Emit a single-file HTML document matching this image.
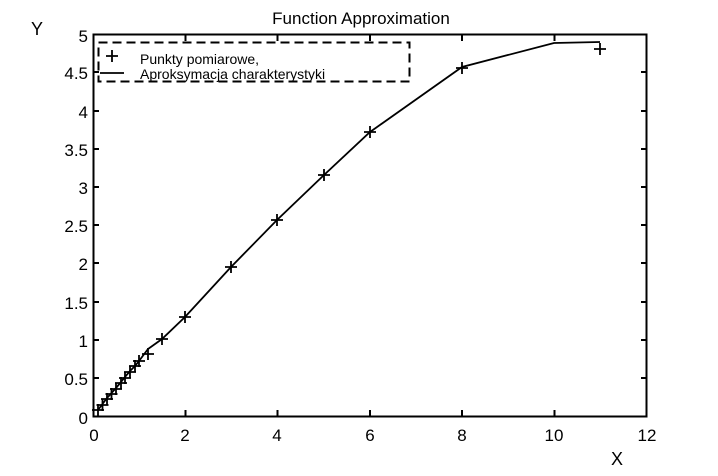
<!DOCTYPE html><html><head><style>body{margin:0;background:#fff}</style></head><body>
<svg width="718" height="471" xmlns="http://www.w3.org/2000/svg" font-family="Liberation Sans, sans-serif">
<rect width="718" height="471" fill="#fff"/>
<text x="361" y="24" font-size="17" text-anchor="middle">Function Approximation</text>
<text x="37" y="35" font-size="18" text-anchor="middle">Y</text>
<text x="617" y="465" font-size="18" text-anchor="middle">X</text>
<rect x="93.5" y="34.5" width="553" height="382" fill="none" stroke="#000" stroke-width="2"/>
<g stroke="#000" stroke-width="2">
<line x1="185.5" y1="416" x2="185.5" y2="410"/><line x1="277.5" y1="416" x2="277.5" y2="410"/><line x1="370" y1="416" x2="370" y2="410"/><line x1="462" y1="416" x2="462" y2="410"/><line x1="554.5" y1="416" x2="554.5" y2="410"/>
<line x1="185.5" y1="35" x2="185.5" y2="41"/><line x1="277.5" y1="35" x2="277.5" y2="41"/><line x1="370" y1="35" x2="370" y2="41"/><line x1="462" y1="35" x2="462" y2="41"/><line x1="554.5" y1="35" x2="554.5" y2="41"/>
</g>
<g stroke="#000" stroke-width="2">
<line x1="93" y1="378" x2="99" y2="378"/><line x1="93" y1="340" x2="99" y2="340"/><line x1="93" y1="302" x2="99" y2="302"/><line x1="93" y1="263" x2="99" y2="263"/><line x1="93" y1="225" x2="99" y2="225"/><line x1="93" y1="187" x2="99" y2="187"/><line x1="93" y1="149" x2="99" y2="149"/><line x1="93" y1="111" x2="99" y2="111"/><line x1="93" y1="72" x2="99" y2="72"/>
<line x1="647" y1="378" x2="641" y2="378"/><line x1="647" y1="340" x2="641" y2="340"/><line x1="647" y1="302" x2="641" y2="302"/><line x1="647" y1="263" x2="641" y2="263"/><line x1="647" y1="225" x2="641" y2="225"/><line x1="647" y1="187" x2="641" y2="187"/><line x1="647" y1="149" x2="641" y2="149"/><line x1="647" y1="111" x2="641" y2="111"/><line x1="647" y1="72" x2="641" y2="72"/>
</g>
<g font-size="17" text-anchor="end">
<text x="88" y="424">0</text><text x="88" y="385">0.5</text><text x="88" y="347">1</text><text x="88" y="309">1.5</text><text x="88" y="270">2</text><text x="88" y="232">2.5</text><text x="88" y="194">3</text><text x="88" y="156">3.5</text><text x="88" y="118">4</text><text x="88" y="79">4.5</text><text x="88" y="42">5</text>
</g>
<g font-size="17" text-anchor="middle">
<text x="94" y="441">0</text><text x="185" y="441">2</text><text x="277" y="441">4</text><text x="370" y="441">6</text><text x="462" y="441">8</text><text x="554" y="441">10</text><text x="647" y="441">12</text>
</g>
<polyline fill="none" stroke="#000" stroke-width="1.8" points="98,410 102.5,404 107,398 111.5,393 116,388 121,382 125,377 130,371 135,366 139,361 148,349 162,339 185,317 231,267 277,220 324,175 370,132 462,67 554,43 600,42"/>
<g stroke="#000" stroke-width="1.8">
<path d="M98,404v12M92,410h12"/><path d="M102.5,399v12M96.5,405h12"/><path d="M107,393v12M101,399h12"/><path d="M111.5,388v12M105.5,394h12"/><path d="M116,383v12M110,389h12"/><path d="M121,377v12M115,383h12"/><path d="M125,372v12M119,378h12"/><path d="M130,366v12M124,372h12"/><path d="M135,360v12M129,366h12"/><path d="M139,355v12M133,361h12"/><path d="M148,348v12M142,354h12"/><path d="M162,333v12M156,339h12"/><path d="M185,311v12M179,317h12"/><path d="M231,261v12M225,267h12"/><path d="M277,214v12M271,220h12"/><path d="M324,169v12M318,175h12"/><path d="M370,126v12M364,132h12"/><path d="M462,62v12M456,68h12"/><path d="M600,43v12M594,49h12"/>
</g>
<rect x="98.5" y="42.5" width="311" height="39" fill="none" stroke="#000" stroke-width="2" stroke-dasharray="9,5"/>
<path d="M112,50v12M106,56h12" stroke="#000" stroke-width="1.8"/>
<line x1="100" y1="73" x2="124" y2="73" stroke="#000" stroke-width="1.8"/>
<text x="140" y="64" font-size="14">Punkty pomiarowe,</text>
<text x="140" y="79" font-size="14">Aproksymacja charakterystyki</text>
</svg>
</body></html>
